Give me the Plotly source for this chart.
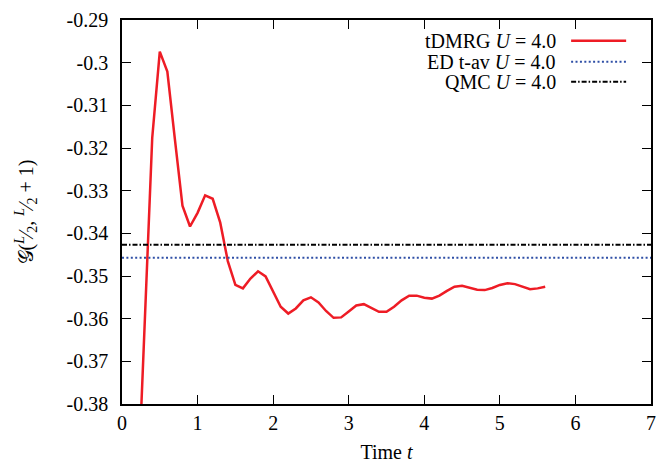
import plotly.graph_objects as go

# ---- data ----
t_dmrg = [0.2, 0.3, 0.4, 0.5, 0.6, 0.7, 0.8, 0.9, 1.0, 1.1, 1.2, 1.3, 1.4, 1.5, 1.6, 1.7, 1.8, 1.9,
          2.0, 2.1, 2.2, 2.3, 2.4, 2.5, 2.6, 2.7, 2.8, 2.9, 3.0, 3.1, 3.2, 3.3, 3.4, 3.5, 3.6, 3.7,
          3.8, 3.9, 4.0, 4.1, 4.2, 4.3, 4.4, 4.5, 4.6, 4.7, 4.8, 4.9, 5.0, 5.1, 5.2, 5.3, 5.4, 5.5, 5.6]
g_dmrg = [-0.405, -0.3615, -0.3176, -0.2974, -0.3021, -0.3180, -0.3335, -0.3384, -0.3352, -0.3311,
          -0.3319, -0.3375, -0.3465, -0.3521, -0.3529, -0.3506, -0.3489, -0.3501, -0.3537, -0.3572,
          -0.3588, -0.3576, -0.3557, -0.3550, -0.3562, -0.3582, -0.3598, -0.3597, -0.3583, -0.3569,
          -0.3566, -0.3575, -0.3584, -0.3584, -0.3572, -0.3557, -0.3546, -0.3546, -0.3551, -0.3553,
          -0.3546, -0.3535, -0.3525, -0.3523, -0.3527, -0.3532, -0.3533, -0.3528, -0.3521, -0.3517,
          -0.3519, -0.3525, -0.3531, -0.3529, -0.3525]
t_ref = [0, 7]
ed_tav = [-0.3457, -0.3457]
qmc = [-0.3427, -0.3427]

x_ticks = [0, 1, 2, 3, 4, 5, 6, 7]
y_ticks = [-0.29, -0.30, -0.31, -0.32, -0.33, -0.34, -0.35, -0.36, -0.37, -0.38]
y_ticktext = ["-0.29", "-0.3", "-0.31", "-0.32", "-0.33", "-0.34", "-0.35", "-0.36", "-0.37", "-0.38"]
legend_labels = ["tDMRG <i>U</i> = 4.0", "ED t-av <i>U</i> = 4.0", "QMC <i>U</i> = 4.0"]

RED = "#ee1c25"
BLUE = "#2f4fa6"
BLACK = "#000000"
FONT = "Liberation Serif, Times New Roman, serif"
FS = 20
colors = [RED, BLUE, BLACK]
widths = [2.5, 2, 2]
dashes = ["solid", "2px,2.4px", "5px,2px,1.5px,2px"]

fig = go.Figure()
fig.add_trace(go.Scatter(x=t_dmrg, y=g_dmrg, mode="lines",
                         line=dict(color=RED, width=2.5), showlegend=False))
fig.add_trace(go.Scatter(x=t_ref, y=ed_tav, mode="lines",
                         line=dict(color=BLUE, width=2, dash=dashes[1]), showlegend=False))
fig.add_trace(go.Scatter(x=t_ref, y=qmc, mode="lines",
                         line=dict(color=BLACK, width=2, dash=dashes[2]), showlegend=False))

# custom legend (text right-aligned, sample on the right, as in gnuplot)
leg_y = [0.946, 0.891, 0.839]
for i, lab in enumerate(legend_labels):
    fig.add_annotation(xref="paper", yref="paper", x=0.824, y=leg_y[i], text=lab,
                       showarrow=False, xanchor="right", yanchor="middle",
                       font=dict(family=FONT, size=FS, color="black"))
    fig.add_shape(type="line", xref="paper", yref="paper", x0=0.849, x1=0.953,
                  y0=leg_y[i], y1=leg_y[i],
                  line=dict(color=colors[i], width=widths[i], dash=dashes[i]))

axis_common = dict(showline=True, linecolor="black", linewidth=1.5, mirror="ticks",
                   ticks="inside", ticklen=9, tickwidth=1.2, tickcolor="black",
                   showgrid=False, zeroline=False, automargin=False,
                   tickfont=dict(family=FONT, size=FS, color="black"))

fig.update_xaxes(range=[0, 7], tickvals=x_ticks, ticktext=[str(v) for v in x_ticks],
                 ticklabelstandoff=0,
                 title=dict(text="Time <i>t</i>", font=dict(family=FONT, size=FS, color="black"),
                            standoff=22),
                 **axis_common)
fig.update_yaxes(range=[-0.38, -0.29], tickvals=y_ticks, ticktext=y_ticktext,
                 ticklabelstandoff=8,
                 title=dict(text="𝒢(<sup><i>L</i></sup>⁄<sub>2</sub>, <sup><i>L</i></sup>⁄<sub>2</sub> + 1)",
                            font=dict(family=FONT, size=FS, color="black"), standoff=28),
                 **axis_common)

# the page body adds an 8px offset on left/top; compensate so the plot area matches the reference
fig.update_layout(width=661, height=455, margin=dict(l=114, r=18, t=12, b=59),
                  paper_bgcolor="white", plot_bgcolor="white",
                  font=dict(family=FONT, size=FS, color="black"))

fig.write_html("out.html")
